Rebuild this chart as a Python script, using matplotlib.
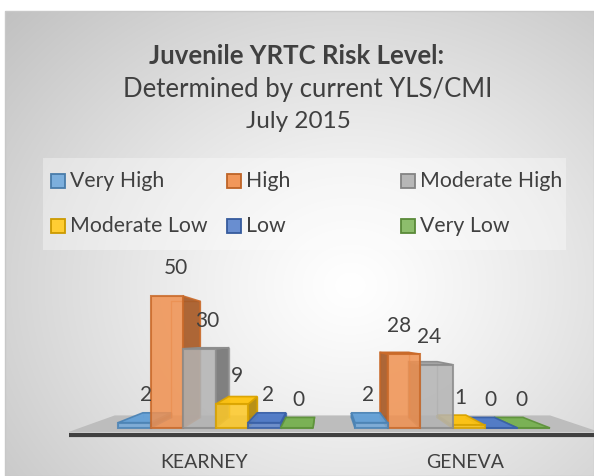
import numpy as np
import matplotlib
matplotlib.use('Agg')
import matplotlib.pyplot as plt
from matplotlib.patches import Polygon, Rectangle
from matplotlib.colors import to_rgb

plt.rcParams['font.family'] = ['Lato', 'DejaVu Sans']

# data
categories = ['KEARNEY', 'GENEVA']
levels = ['Very High', 'High', 'Moderate High', 'Moderate Low', 'Low', 'Very Low']
kearney = [2, 50, 30, 9, 2, 0]
geneva = [2, 28, 24, 1, 0, 0]
colors = ['#5B9BD5', '#ED7D31', '#A5A5A5', '#FFC000', '#4472C4', '#70AD47']

text_col = '#404040'


def mix(c, other, t):
    a = np.array(to_rgb(c))
    b = np.array(to_rgb(other))
    return tuple(a * (1 - t) + b * t)


W, H = 594, 476
fig = plt.figure(figsize=(W / 100, H / 100), dpi=100)

# background: radial gradient inside the chart frame
bg = fig.add_axes([0, 0, 1, 1])
bg.set_xlim(0, W)
bg.set_ylim(H, 0)
bg.axis('off')
fx0, fy0 = 5, 11
yy, xx = np.mgrid[fy0:H, fx0:W]
r = np.sqrt(((xx - 350) / 340.0) ** 2 + ((yy - 285) / 290.0) ** 2)
shade = np.clip(255 - 42 * r ** 1.2, 0, 255) / 255.0
img = np.dstack([shade, shade, shade])
bg.imshow(img, extent=(fx0, W, H, fy0), aspect='auto', zorder=0)
bg.add_patch(Rectangle((fx0, fy0), W - fx0, H - fy0, fill=False,
                       ec='#C8C8C8', lw=1, zorder=1))

# titles
bg.text(297, 56, 'Juvenile YRTC Risk Level:', ha='center', va='center',
        fontsize=18.5, fontweight='bold', color=text_col)
bg.text(308, 89, 'Determined by current YLS/CMI', ha='center', va='center',
        fontsize=18.5, color=text_col)
bg.text(298, 122, 'July 2015', ha='center', va='center',
        fontsize=17.5, color=text_col)

# legend box and entries
bg.add_patch(Rectangle((43, 158), 523, 92, fc='white', alpha=0.35,
                       ec='none', zorder=1))
col_x = [51, 227, 401, 51, 227, 401]
row_y = [181, 181, 181, 226, 226, 226]
for lab, c, lx, ly in zip(levels, colors, col_x, row_y):
    bg.add_patch(Rectangle((lx, ly - 7), 14, 14, fc=mix(c, 'white', 0.2),
                           ec=mix(c, 'black', 0.2), lw=1.3, zorder=2))
    bg.text(lx + 19, ly, lab, ha='left', va='center', fontsize=15.3,
            color=text_col, zorder=2)

# chart axes in value units (0 sits at 428 px from top)
ax = fig.add_axes([0, 0, 1, 1])
ax.patch.set_alpha(0)
ax.axis('off')
px_per_cat = 237.0
px_per_val = 2.64
x_zero_px = 215.5
y_zero_px = 428
ax.set_xlim(-x_zero_px / px_per_cat, (W - x_zero_px) / px_per_cat)
ax.set_ylim(-(H - y_zero_px) / px_per_val, y_zero_px / px_per_val)

# simple perspective: back = front + d * (vp - front)
k = 0.12
vpx, vpy = 0.462, 33.3


def back(x, y, d=k):
    return (x + d * (vpx - x), y + d * (vpy - y))


# floor
fl_y = -1.5
fl_x0, fl_x1 = -0.62, 1.62
floor = [(fl_x0, fl_y), (fl_x1, fl_y), back(fl_x1, fl_y, 0.18),
         back(fl_x0, fl_y, 0.18)]
ax.add_patch(Polygon(floor, closed=True, fc='#BDBDBD', ec='none', zorder=1))
ax.plot([fl_x0, fl_x1], [-2.7, -2.7], color='#404040', lw=3,
        solid_capstyle='butt', zorder=1)

bar_w = 32.5 / px_per_cat
for g, vals in enumerate([kearney, geneva]):
    for i, v in enumerate(vals):
        c = colors[i]
        x0 = g + (i - 3) * bar_w
        x1 = x0 + bar_w
        xc = (x0 + x1) / 2
        z = 10 - abs(xc - vpx)
        edge = mix(c, 'black', 0.15)
        front_c = mix(c, 'white', 0.15)
        side_c = mix(c, 'black', 0.3)
        # hidden back edges seen through the glassy bar
        bl, bt = back(x0, v), back(x1, v)
        b0l, b0r = back(x0, 0), back(x1, 0)
        ax.plot([b0l[0], bl[0], bt[0], b0r[0]], [b0l[1], bl[1], bt[1], b0r[1]],
                color=edge, lw=1, alpha=0.6, zorder=z)
        if x1 < vpx:
            side = [(x1, 0), (x1, v), bt, b0r]
            ax.add_patch(Polygon(side, closed=True, fc=side_c, ec=edge,
                                 lw=1.2, alpha=0.9, zorder=z))
        elif x0 > vpx:
            side = [(x0, 0), (x0, v), bl, b0l]
            ax.add_patch(Polygon(side, closed=True, fc=side_c, ec=edge,
                                 lw=1.2, alpha=0.9, zorder=z))
        if v < vpy:
            top = [(x0, v), (x1, v), bt, bl]
            ax.add_patch(Polygon(top, closed=True, fc=mix(c, 'white', 0.05),
                                 ec=edge, lw=1.2, alpha=0.95, zorder=z))
        ax.add_patch(Rectangle((x0, 0), bar_w, v, fc=front_c, ec=edge,
                               lw=1.5, alpha=0.85, zorder=z))
        lx = xc + k / 2 * (vpx - xc)
        ax.annotate(str(v), (lx, v), xytext=(0, 20), textcoords='offset points',
                    ha='center', va='center', fontsize=15, color=text_col,
                    zorder=20)

# category labels
for g, name in enumerate(categories):
    gx = g + 0.1 * (g - vpx)
    ax.text(gx, -(463 - y_zero_px) / px_per_val, name, ha='center', va='center',
            fontsize=14, color=text_col)

fig.savefig('out.png', dpi=100)
